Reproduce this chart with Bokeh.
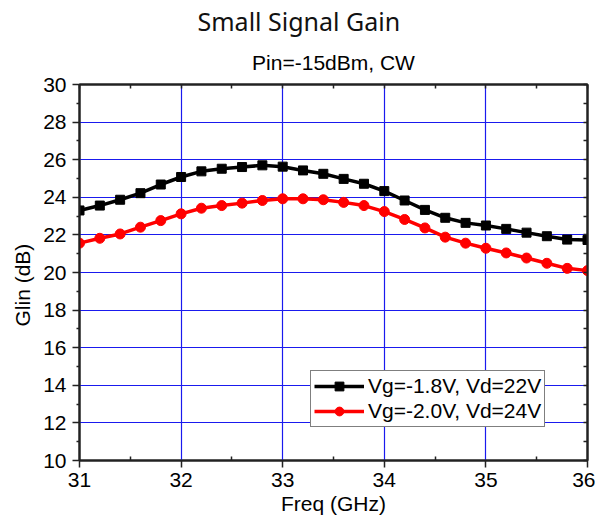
from bokeh.plotting import figure
from bokeh.models import (Range1d, FixedTicker, LinearAxis, Legend, Title)
from bokeh.embed import file_html
from bokeh.resources import INLINE

freq = [31.0, 31.2, 31.4, 31.6, 31.8, 32.0, 32.2, 32.4, 32.6, 32.8,
        33.0, 33.2, 33.4, 33.6, 33.8, 34.0, 34.2, 34.4, 34.6, 34.8,
        35.0, 35.2, 35.4, 35.6, 35.8, 36.0]
gain_18v = [23.30, 23.56, 23.87, 24.22, 24.68, 25.08, 25.38, 25.52, 25.61, 25.70,
            25.63, 25.43, 25.25, 24.98, 24.72, 24.33, 23.83, 23.33, 22.91, 22.64,
            22.50, 22.32, 22.12, 21.93, 21.75, 21.73]
gain_20v = [21.56, 21.82, 22.05, 22.41, 22.76, 23.12, 23.42, 23.56, 23.69, 23.83,
            23.92, 23.92, 23.87, 23.73, 23.56, 23.24, 22.82, 22.37, 21.88, 21.56,
            21.29, 21.04, 20.77, 20.49, 20.22, 20.10]
label_18v = "Vg=-1.8V, Vd=22V"
label_20v = "Vg=-2.0V, Vd=24V"
x_ticks = [31, 32, 33, 34, 35, 36]
x_minor = [31.5, 32.5, 33.5, 34.5, 35.5]
y_ticks = [10, 12, 14, 16, 18, 20, 22, 24, 26, 28, 30]
y_minor = [11, 13, 15, 17, 19, 21, 23, 25, 27, 29]
title_text = "Small Signal Gain"
subtitle_text = "Pin=-15dBm, CW"
x_label = "Freq (GHz)"
y_label = "Glin (dB)"

FONT = "Liberation Sans"
AXC = "#222222"

p = figure(frame_width=508, frame_height=376,
           min_border_left=79, min_border_right=8,
           min_border_top=84, min_border_bottom=62,
           x_range=Range1d(31, 36), y_range=Range1d(10, 30),
           output_backend="svg", toolbar_location=None,
           x_axis_location=None, y_axis_location=None)
p.outline_line_color = AXC
p.outline_line_width = 2
p.background_fill_color = "white"
p.border_fill_color = "white"

xt = FixedTicker(ticks=x_ticks, minor_ticks=x_minor)
yt = FixedTicker(ticks=y_ticks, minor_ticks=y_minor)
# mirror axes: ticks only, no labels
xt_mirror = FixedTicker(ticks=[], minor_ticks=x_ticks + x_minor)
yt_mirror = FixedTicker(ticks=[], minor_ticks=y_ticks + y_minor)

def style(ax):
    ax.axis_line_color = AXC
    ax.axis_line_width = 2
    ax.major_tick_line_color = AXC
    ax.minor_tick_line_color = AXC
    ax.major_tick_line_width = 1.5
    ax.minor_tick_line_width = 1.5
    ax.major_label_text_font = FONT
    ax.major_label_text_font_size = "21px"
    ax.major_label_text_color = "black"

bottom = LinearAxis(ticker=xt)
style(bottom)
bottom.major_tick_out = 7
bottom.major_tick_in = 0
bottom.minor_tick_out = 0
bottom.minor_tick_in = 4
bottom.major_label_standoff = 5
bottom.axis_label = x_label
bottom.axis_label_text_font = FONT
bottom.axis_label_text_font_size = "21px"
bottom.axis_label_text_font_style = "normal"
bottom.axis_label_text_color = "black"
bottom.axis_label_standoff = 2
p.add_layout(bottom, "below")

left = LinearAxis(ticker=yt)
style(left)
left.major_tick_out = 7
left.major_tick_in = 0
left.minor_tick_out = 3
left.minor_tick_in = 0
left.major_label_standoff = 6
p.add_layout(left, "left")

top = LinearAxis(ticker=xt_mirror)
style(top)
top.minor_tick_out = 0
top.minor_tick_in = 4
p.add_layout(top, "above")

right = LinearAxis(ticker=yt_mirror)
style(right)
right.minor_tick_out = 0
right.minor_tick_in = 4
p.add_layout(right, "right")

p.xgrid.ticker = xt
p.ygrid.ticker = yt
p.grid.grid_line_color = "#1a1aee"
p.grid.grid_line_width = 1.2

l1 = p.line(freq, gain_18v, line_color="black", line_width=3.5)
s1 = p.scatter(freq, gain_18v, marker="square", size=9, fill_color="black", line_color="black")
l2 = p.line(freq, gain_20v, line_color="#ff0000", line_width=3.5)
s2 = p.scatter(freq, gain_20v, marker="circle", size=10, fill_color="#ff0000", line_color="#ff0000")

legend = Legend(items=[(label_18v, [l1, s1]), (label_20v, [l2, s2])],
                location=(231, 33))
legend.label_text_font = FONT
legend.label_text_font_size = "21px"
legend.label_text_color = "black"
legend.glyph_width = 50
legend.glyph_height = 22
legend.label_height = 22
legend.label_standoff = 4
legend.spacing = 1
legend.padding = 3
legend.margin = 0
legend.border_line_color = "black"
legend.border_line_width = 1.5
legend.background_fill_color = "white"
legend.background_fill_alpha = 1
p.add_layout(legend, "center")

sub = Title(text=subtitle_text, align="center", text_font=FONT, text_font_size="21px",
            text_font_style="normal", text_color="black", standoff=22)
p.add_layout(sub, "above")
ttl = Title(text=title_text, align="left", offset=118, text_font="Noto Sans",
            text_font_size="25px", text_font_style="normal", text_color="#111111", standoff=0)
p.add_layout(ttl, "above")
ylab = Title(text=y_label, align="left", offset=134, text_font=FONT, text_font_size="21px",
             text_font_style="normal", text_color="black", standoff=14)
p.add_layout(ylab, "left")

open("out.html", "w").write(file_html(p, INLINE))
